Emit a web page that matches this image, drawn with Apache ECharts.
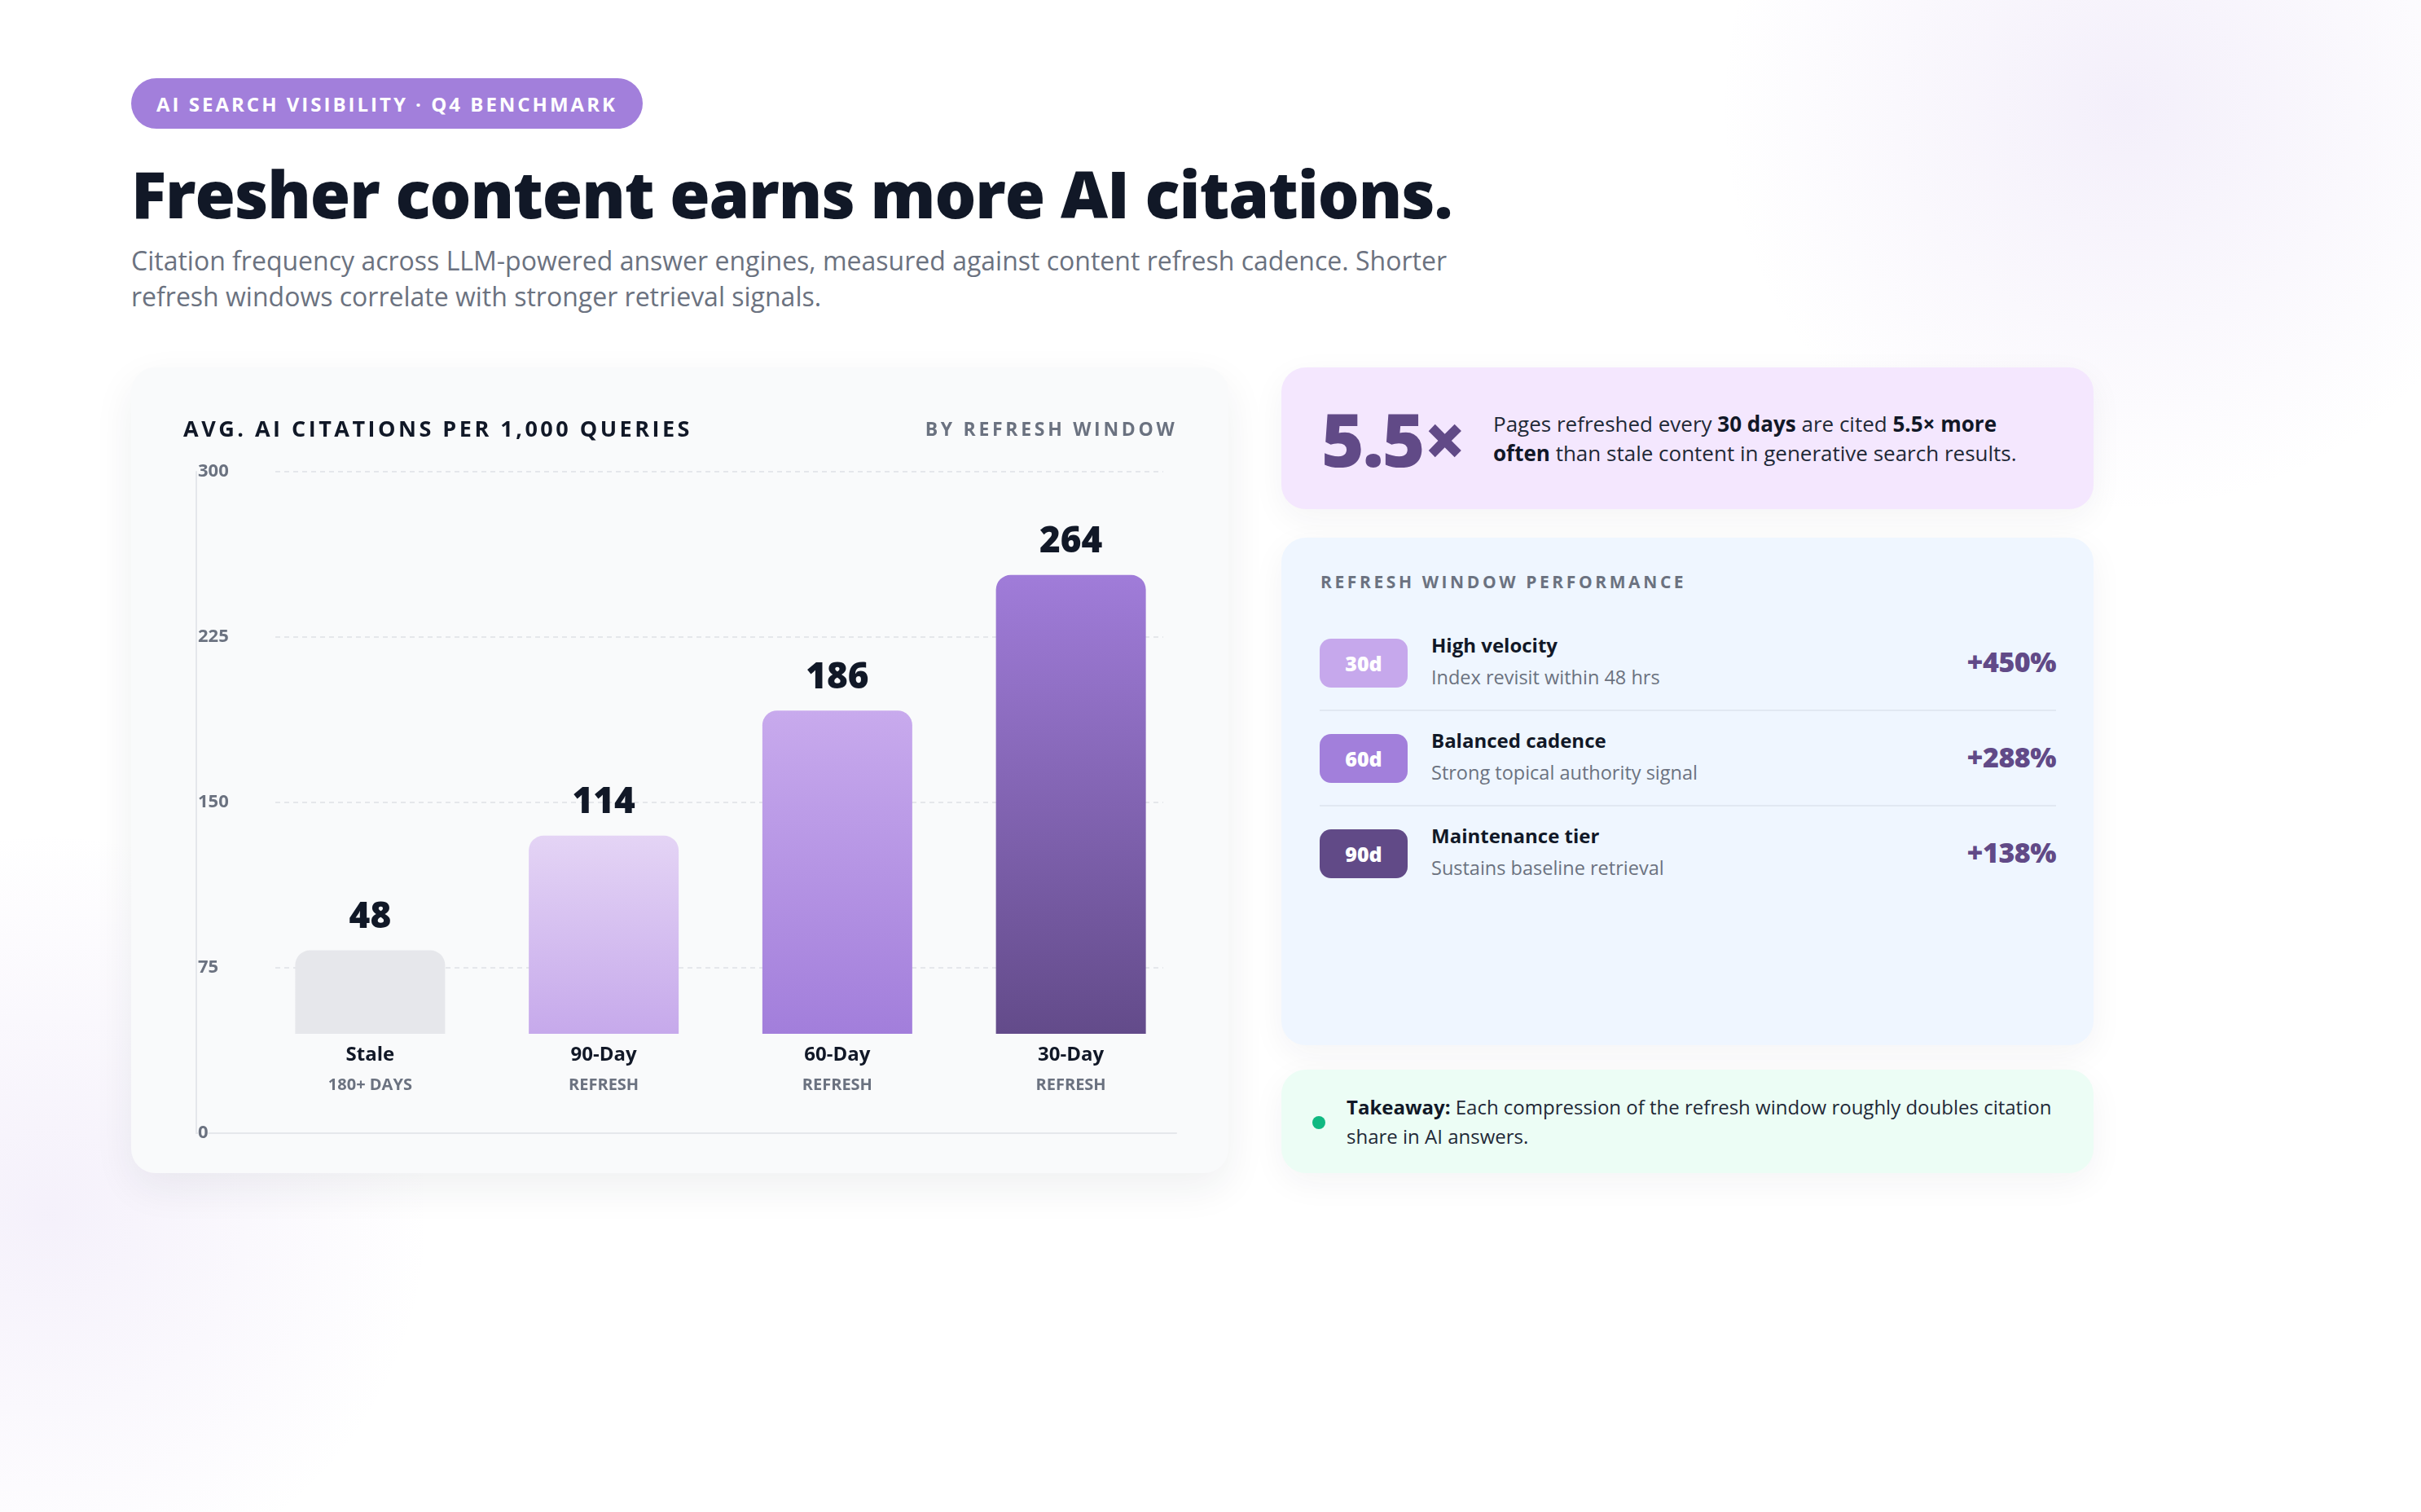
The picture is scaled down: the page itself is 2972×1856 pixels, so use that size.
<!DOCTYPE html>
<html>
<head>
<meta charset="utf-8">
<script src="https://cdn.jsdelivr.net/npm/echarts@6.0.0/dist/echarts.min.js"></script>
<style>
  html, body { margin: 0; padding: 0; }
  body {
    width: 2972px; height: 1856px; overflow: hidden; position: relative;
    font-family: "Open Sans", sans-serif; color: #111827;
    background:
      radial-gradient(circle 500px at 2610px 130px, rgba(160,124,217,0.12), rgba(160,124,217,0) 100%),
      radial-gradient(circle 470px at 60px 1490px, rgba(160,124,217,0.11), rgba(160,124,217,0) 100%),
      #ffffff;
  }
  .abs { position: absolute; white-space: nowrap; }
  .pill {
    left: 161px; top: 96px; width: 628px; height: 62px; border-radius: 31px;
    background: #a27fdb; color: #fff; font-size: 24px; font-weight: 700;
    letter-spacing: 3px; display: flex; align-items: center; justify-content: center;
  }
  .title { left: 161px; top: 182.5px; font-size: 80px; line-height: 1.362; font-weight: 800; letter-spacing: -1.05px; }
  .sub { left: 161px; top: 297.5px; font-size: 32px; line-height: 44.3px; color: #6b7280; }
  .card { position: absolute; border-radius: 30px; }
  #chartCard { left: 161px; top: 451px; width: 1347px; height: 989px; background: #f9fafb;
    box-shadow: 0 18px 50px rgba(31,41,55,0.07); }
  #chart { position: absolute; left: 0; top: 0; width: 1347px; height: 989px; }
  .ctitle { left: 64px; top: 57px; font-size: 27px; line-height: 1.362; font-weight: 700; letter-spacing: 3.5px; z-index: 2; }
  .cside { right: 62.5px; top: 60.4px; font-size: 23px; line-height: 1.362; font-weight: 700; letter-spacing: 3.7px; color: #6b7280; z-index: 2; }
  #statCard { left: 1573px; top: 451px; width: 997px; height: 174px; background: #f4e7fe;
    box-shadow: 0 12px 40px rgba(31,41,55,0.05); }
  .big { left: 49px; top: 25.8px; font-size: 90px; line-height: 1.362; font-weight: 800; color: #614a87; letter-spacing: -2px; }
  .para { left: 260px; top: 51px; font-size: 26px; line-height: 36px; color: #1f2937; }
  .para b, .take b { color: #111827; font-weight: 700; }
  #perfCard { left: 1573px; top: 660px; width: 997px; height: 623px; background: #eff6ff;
    box-shadow: 0 12px 40px rgba(31,41,55,0.05); }
  .phead { left: 48px; top: 39.6px; font-size: 21px; line-height: 1.362; font-weight: 700; letter-spacing: 3.6px; color: #6b7280; }
  .badge { left: 47px; width: 108px; height: 60px; border-radius: 14px; color: #fff; font-size: 25px; font-weight: 800;
    display: flex; align-items: center; justify-content: center; }
  .rt { left: 184px; font-size: 24px; line-height: 1.362; font-weight: 700; }
  .rs { left: 184px; font-size: 23.5px; line-height: 1.362; color: #6b7280; }
  .rv { right: 46px; font-size: 34px; line-height: 1.362; font-weight: 800; color: #614a87; letter-spacing: -0.5px; }
  .div { left: 47px; width: 904px; height: 2px; background: #e1e8f2; }
  #takeCard { left: 1573px; top: 1313px; width: 997px; height: 127px; background: #ecfdf5;
    box-shadow: 0 12px 40px rgba(31,41,55,0.05); }
  .dot { left: 38px; top: 57px; width: 16px; height: 16px; border-radius: 8px; background: #10b981; }
  .take { left: 80px; top: 28px; font-size: 24px; line-height: 35.5px; color: #1f2937; }
</style>
</head>
<body>
  <div class="abs pill">AI SEARCH VISIBILITY · Q4 BENCHMARK</div>
  <div class="abs title">Fresher content earns more AI citations.</div>
  <div class="abs sub">Citation frequency across LLM-powered answer engines, measured against content refresh cadence. Shorter<br>refresh windows correlate with stronger retrieval signals.</div>

  <div class="card" id="chartCard">
    <div id="chart"></div>
    <div class="abs ctitle">AVG. AI CITATIONS PER 1,000 QUERIES</div>
    <div class="abs cside">BY REFRESH WINDOW</div>
  </div>

  <div class="card" id="statCard">
    <div class="abs big">5.5×</div>
    <div class="abs para">Pages refreshed every <b>30 days</b> are cited <b>5.5× more</b><br><b>often</b> than stale content in generative search results.</div>
  </div>

  <div class="card" id="perfCard">
    <div class="abs phead">REFRESH WINDOW PERFORMANCE</div>

    <div class="abs badge" style="top:124px;background:#c6a8ec;">30d</div>
    <div class="abs rt" style="top:115.8px;">High velocity</div>
    <div class="abs rs" style="top:155px;">Index revisit within 48 hrs</div>
    <div class="abs rv" style="top:129.4px;">+450%</div>
    <div class="abs div" style="top:211px;"></div>

    <div class="abs badge" style="top:241px;background:#a27fdb;">60d</div>
    <div class="abs rt" style="top:232.8px;">Balanced cadence</div>
    <div class="abs rs" style="top:272px;">Strong topical authority signal</div>
    <div class="abs rv" style="top:246.4px;">+288%</div>
    <div class="abs div" style="top:328px;"></div>

    <div class="abs badge" style="top:358px;background:#614a87;">90d</div>
    <div class="abs rt" style="top:349.8px;">Maintenance tier</div>
    <div class="abs rs" style="top:389px;">Sustains baseline retrieval</div>
    <div class="abs rv" style="top:363.4px;">+138%</div>
  </div>

  <div class="card" id="takeCard">
    <div class="abs dot"></div>
    <div class="abs take"><b>Takeaway:</b> Each compression of the refresh window roughly doubles citation<br>share in AI answers.</div>
  </div>

<script>
// bar chart data
const categories = ["Stale", "90-Day", "60-Day", "30-Day"];
const subLabels = ["180+ DAYS", "REFRESH", "REFRESH", "REFRESH"];
const citations = [48, 114, 186, 264];
const yTicks = [0, 75, 150, 225, 300];

// styling per bar (solid or top→bottom gradient)
const barColors = [
  ["#e6e7eb", "#e6e7eb"],
  ["#e4d4f5", "#c6a9eb"],
  ["#c8aaed", "#a27edb"],
  ["#a07cd9", "#634b8a"],
];

const FONT = "'Open Sans', sans-serif";
const yMax = yTicks[yTicks.length - 1];
const yStep = yTicks[1] - yTicks[0];

const chart = echarts.init(document.getElementById("chart"), null, { renderer: "canvas" });

const option = {
  backgroundColor: "transparent",
  animation: false,
  textStyle: { fontFamily: FONT },
  grid: [
    // axis frame: left line + baseline + tick labels
    { left: 80, top: 128, width: 1203, height: 812 },
    // dashed guide lines
    { left: 177, top: 128, width: 1090, height: 812 },
    // bars
    { left: 150, top: 178, width: 1147, height: 640 },
  ],
  xAxis: [
    {
      gridIndex: 0, type: "value", min: 0, max: 1,
      axisLine: { show: true, lineStyle: { color: "#e5e7eb", width: 2 } },
      axisTick: { show: false }, axisLabel: { show: false }, splitLine: { show: false },
    },
    {
      gridIndex: 1, type: "value", min: 0, max: 1, show: false,
    },
    {
      gridIndex: 2, type: "category", data: categories,
      axisLine: { show: false }, axisTick: { show: false },
      axisLabel: {
        margin: 8,
        formatter: (v, i) => "{a|" + v + "}\n{b|" + subLabels[i] + "}",
        rich: {
          a: { fontFamily: FONT, fontSize: 24, fontWeight: 700, color: "#111827", lineHeight: 37 },
          b: { fontFamily: FONT, fontSize: 20, fontWeight: 700, color: "#6b7280", lineHeight: 37 },
        },
      },
    },
  ],
  yAxis: [
    {
      gridIndex: 0, type: "value", min: 0, max: yMax, interval: yStep,
      axisLine: { show: true, lineStyle: { color: "#e5e7eb", width: 2 } },
      axisTick: { show: false },
      splitLine: { show: false },
      axisLabel: {
        inside: true, margin: 2, align: "left",
        fontFamily: FONT, fontSize: 22, fontWeight: 700, color: "#6b7280",
        backgroundColor: "#f9fafb", padding: [10, 0, 0, 0],
      },
    },
    {
      gridIndex: 1, type: "value", min: 0, max: yMax, interval: yStep,
      axisLine: { show: false }, axisTick: { show: false }, axisLabel: { show: false },
      splitLine: { show: true, lineStyle: { color: "#e5e7eb", width: 2, type: [6, 5] } },
    },
    {
      gridIndex: 2, type: "value", min: 0, max: yMax, show: false,
    },
  ],
  series: [
    {
      type: "bar",
      xAxisIndex: 2,
      yAxisIndex: 2,
      barWidth: 184,
      data: citations.map((v, i) => ({
        value: v,
        itemStyle: {
          color: {
            type: "linear", x: 0, y: 0, x2: 0, y2: 1,
            colorStops: [
              { offset: 0, color: barColors[i][0] },
              { offset: 1, color: barColors[i][1] },
            ],
          },
        },
      })),
      itemStyle: { borderRadius: [18, 18, 0, 0] },
      label: {
        show: true, position: "top", distance: 18,
        fontFamily: FONT, fontSize: 44, fontWeight: 800, color: "#111827",
      },
    },
  ],
};

chart.setOption(option);
</script>
</body>
</html>
